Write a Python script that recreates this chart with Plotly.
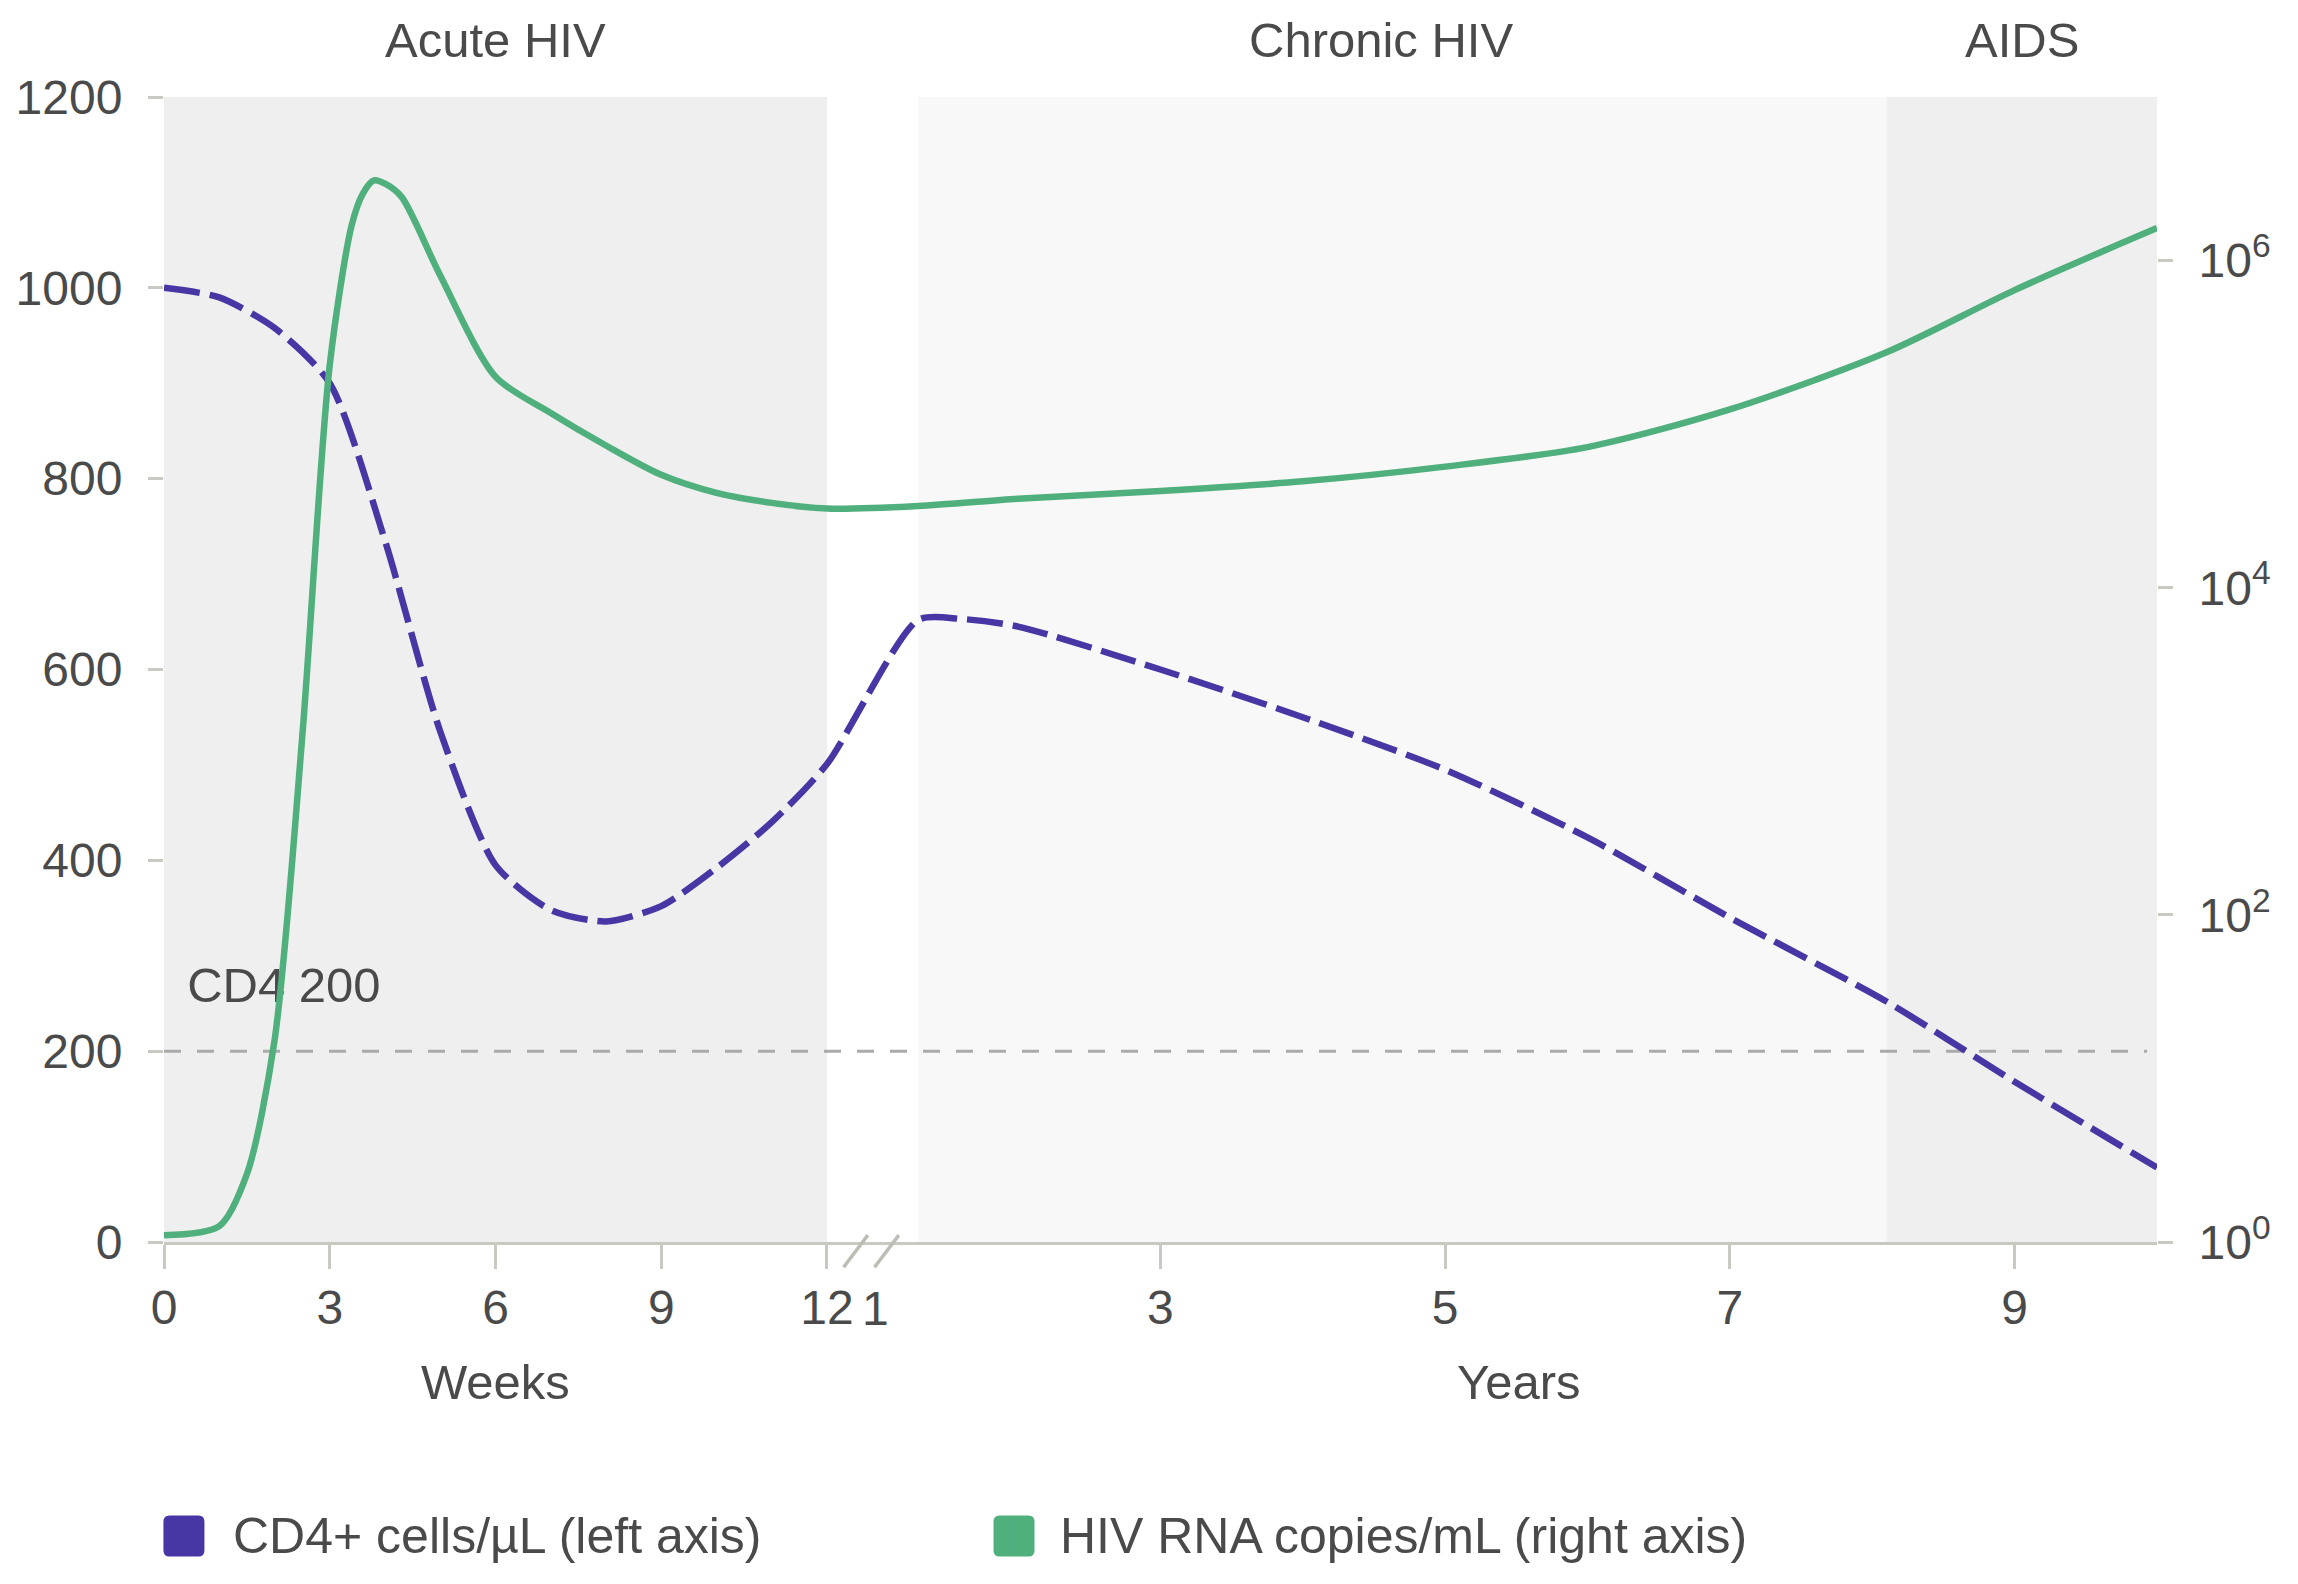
import numpy as np
import plotly.graph_objects as go

# ---- data ----
# acute phase, x in weeks
weeks_cd4 = [0, 1, 2, 3, 4, 5, 6, 7, 8, 9, 10, 11, 12]
cd4_acute = [1000, 990, 958, 900, 735, 535, 395, 348, 336, 352, 392, 440, 501]
weeks_rna = [0, 1, 1.5, 2, 2.5, 3, 3.4, 3.6, 3.8, 4.0, 4.3, 5, 6, 7, 8, 9, 10, 11, 12]
rna_acute = [1.1, 1.25, 2.6, 17, 1200, 230000, 1660000, 2570000, 3090000, 2950000,
             2450000, 810000, 195000, 117000, 74000, 49000, 38000, 33000, 30500]

# chronic phase and AIDS, x in years
years_cd4 = [1.3, 1.6, 2, 3, 4, 5, 6, 7, 8.1, 9, 10]
cd4_chronic = [652, 653, 645, 600, 550, 495, 424, 340, 252, 168, 78]
years_rna = [1.3, 2, 3, 4, 5, 6, 7, 8.1, 9, 10]
rna_chronic = [31600, 35000, 39000, 44700, 55000, 72400, 123000, 275000, 660000, 1580000]

# phase boundaries (years) and labels
chronic_start = 1.3
aids_start = 8.1
year_end = 10
phase_labels = ["Acute HIV", "Chronic HIV", "AIDS"]

week_ticks = [0, 3, 6, 9, 12]
year_ticks = [3, 5, 7, 9]
cd4_ticks = [0, 200, 400, 600, 800, 1000, 1200]
rna_ticks = [1, 1e2, 1e4, 1e6]
rna_ticktext = ["10<sup>0</sup>", "10<sup>2</sup>", "10<sup>4</sup>", "10<sup>6</sup>"]
cd4_threshold = 200

# ---- broken x axis: weeks 0-12, then years on a compressed scale ----
YEAR1_POS = 12.88   # where "1 year" sits, in week units
YEAR_STEP = 2.577   # width of one year, in week units


def year_pos(y):
    return YEAR1_POS + (np.asarray(y, dtype=float) - 1) * YEAR_STEP


x_end = float(year_pos(year_end))

PURPLE = "#4637a4"
GREEN = "#50b07d"
AXIS_GRAY = "#c9c9c1"
TEXT = "#4a4a4a"
FONT = "Liberation Sans, Arial, sans-serif"
FS = 48

x_cd4 = np.concatenate([weeks_cd4, year_pos(years_cd4)])
y_cd4 = cd4_acute + cd4_chronic
x_rna = np.concatenate([weeks_rna, year_pos(years_rna)])
y_rna = rna_acute + rna_chronic

fig = go.Figure()

# threshold label sits under the lines
fig.add_trace(go.Scatter(
    x=[0.42], y=[cd4_threshold + 64], mode="text", text=["CD4 %d" % cd4_threshold],
    textposition="middle right", textfont=dict(family=FONT, size=49, color=TEXT),
    showlegend=False, hoverinfo="skip"))

fig.add_trace(go.Scatter(
    x=x_cd4, y=y_cd4, mode="lines", name="CD4+ cells/µL (left axis)",
    line=dict(color=PURPLE, width=6.5, dash="36px,10px", shape="spline", smoothing=0.7),
    showlegend=False))

fig.add_trace(go.Scatter(
    x=x_rna, y=y_rna, mode="lines", name="HIV RNA copies/mL (right axis)", yaxis="y2",
    line=dict(color=GREEN, width=6.5, shape="spline", smoothing=0.8),
    showlegend=False))

# phase shading
shapes = []
for x0, x1, col in [(0, 12, "#efefef"),
                    (year_pos(chronic_start), year_pos(aids_start), "#f8f8f8"),
                    (year_pos(aids_start), x_end, "#efefef")]:
    shapes.append(dict(type="rect", xref="x", yref="paper", x0=float(x0), x1=float(x1),
                       y0=0, y1=1, fillcolor=col, line_width=0, layer="below"))

shapes.append(dict(type="line", xref="paper", yref="y", x0=0, x1=0.995,
                   y0=cd4_threshold, y1=cd4_threshold, layer="below",
                   line=dict(color="#aaaaaa", width=3, dash="17px,16px")))

# axis break marks
for bx in [12.30, 12.86]:
    shapes.append(dict(type="line", xref="x", yref="paper", x0=bx, x1=bx + 0.44,
                       y0=-0.022, y1=0.006, line=dict(color="#bdbdb5", width=3.5)))

# legend swatches (rounded squares)
h, r = 20.5, 6
sq = (f"M {-h + r},{-h} L {h - r},{-h} Q {h},{-h} {h},{-h + r} L {h},{h - r} "
      f"Q {h},{h} {h - r},{h} L {-h + r},{h} Q {-h},{h} {-h},{h - r} "
      f"L {-h},{-h + r} Q {-h},{-h} {-h + r},{-h} Z")
for px, col in [(0.0100, PURPLE), (0.4265, GREEN)]:
    shapes.append(dict(type="path", xref="paper", yref="paper", xsizemode="pixel",
                       ysizemode="pixel", xanchor=px, yanchor=-0.2568, path=sq,
                       fillcolor=col, line_width=0))

font = dict(family=FONT, size=FS, color=TEXT)
title_font = dict(family=FONT, size=49, color=TEXT)
legend_font = dict(family=FONT, size=50, color=TEXT)
annotations = []
for label, xc in zip(phase_labels, [6, year_pos(4.55), year_pos(9.05)]):
    annotations.append(dict(text=label, x=float(xc), xref="x", y=1.0498, yref="paper",
                            showarrow=False, font=title_font, yanchor="middle"))
annotations += [
    dict(text="Weeks", x=6, xref="x", y=-0.1223, yref="paper", showarrow=False,
         font=title_font, yanchor="middle"),
    dict(text="Years", x=float(year_pos(5.52)), xref="x", y=-0.1223, yref="paper",
         showarrow=False, font=title_font, yanchor="middle"),
    # "1" of the years scale has no tick of its own, the break mark stands there
    dict(text="1", x=YEAR1_POS, xref="x", y=-0.0585, yref="paper", showarrow=False,
         font=font, yanchor="middle"),
    dict(text="CD4+ cells/µL (left axis)", x=0.0334, xref="paper", y=-0.2568,
         yref="paper", showarrow=False, font=legend_font, xanchor="left", yanchor="middle"),
    dict(text="HIV RNA copies/mL (right axis)", x=0.4488, xref="paper", y=-0.2568,
         yref="paper", showarrow=False, font=legend_font, xanchor="left", yanchor="middle"),
]

x_tickvals = list(week_ticks) + [float(v) for v in year_pos(year_ticks)]
x_ticktext = [str(v) for v in week_ticks] + [str(v) for v in year_ticks]

fig.update_layout(
    width=2298, height=1584,
    margin=dict(l=164, r=141, t=97, b=342),
    paper_bgcolor="white", plot_bgcolor="white",
    font=font,
    shapes=shapes, annotations=annotations,
    showlegend=False,
    xaxis=dict(range=[0, x_end], showgrid=False, zeroline=False, showline=True,
               linecolor=AXIS_GRAY, linewidth=3, tickmode="array",
               tickvals=x_tickvals, ticktext=x_ticktext, ticks="outside",
               ticklen=24, tickwidth=3, tickcolor=AXIS_GRAY, ticklabelstandoff=-3),
    yaxis=dict(range=[0, 1200], showgrid=False, zeroline=False, showline=False,
               tickmode="array", tickvals=cd4_ticks, ticks="outside", ticklen=15,
               tickwidth=3, tickcolor=AXIS_GRAY, ticklabelstandoff=16),
    yaxis2=dict(type="log", range=[0, 7], overlaying="y", side="right",
                showgrid=False, zeroline=False, showline=False, tickmode="array",
                tickvals=rna_ticks, ticktext=rna_ticktext, ticks="outside",
                ticklen=15, tickwidth=3, tickcolor=AXIS_GRAY, ticklabelstandoff=16),
)

fig.write_html("out.html", config={"displayModeBar": False},
               post_script="document.body.style.margin='0';")
